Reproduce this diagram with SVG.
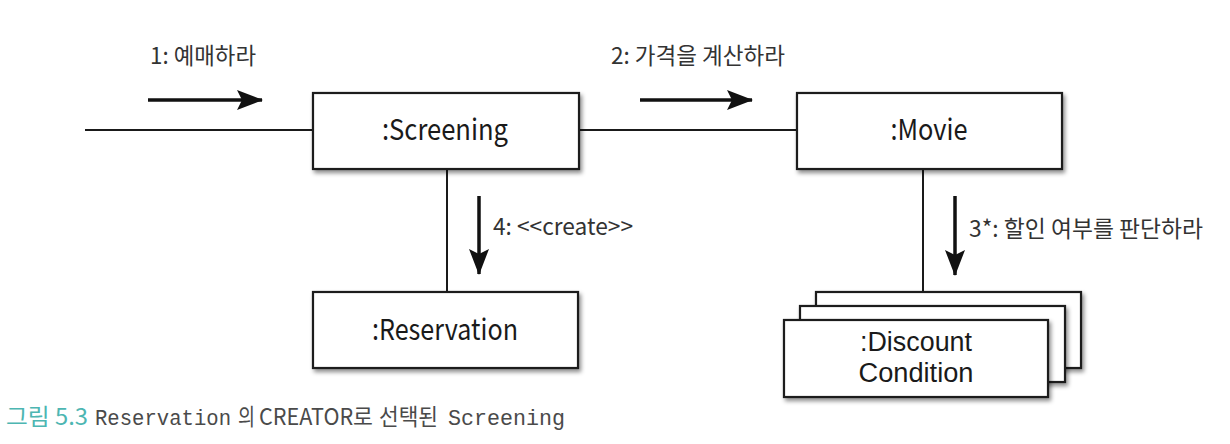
<svg xmlns="http://www.w3.org/2000/svg" width="1230" height="444" viewBox="0 0 1230 444">
<defs>
<filter id="sh" x="-10%" y="-20%" width="125%" height="150%">
<feDropShadow dx="2" dy="3" stdDeviation="2" flood-color="#000" flood-opacity="0.45"/>
</filter>
<marker id="ah" markerUnits="userSpaceOnUse" markerWidth="30" markerHeight="24" refX="25" refY="10" orient="auto" viewBox="0 0 30 24">
<path d="M0,0 L26,10 L0,20 L5,10 Z" fill="#111"/>
</marker>
</defs>
<style>
.box{fill:#fff;stroke:#1a1a1a;stroke-width:2.2}
.conn{stroke:#1a1a1a;stroke-width:2;fill:none}
.msg{stroke:#111;stroke-width:3.5;fill:none;marker-end:url(#ah)}
.node{font-family:"Noto Sans CJK KR","Noto Sans",sans-serif;font-size:29px;fill:#1a1a1a;text-anchor:middle}
.node2{font-family:"Liberation Sans",Arial,sans-serif;font-size:27px;fill:#1a1a1a;text-anchor:middle}
.lbl{font-family:"Noto Sans CJK KR","Noto Sans",sans-serif;font-size:23px;fill:#333}
.cap{font-family:"Noto Sans CJK KR","Noto Sans",sans-serif;font-size:23px;fill:#4a4a4a}
.teal{fill:#4db6b2}
.mono{font-family:"Liberation Mono","DejaVu Sans Mono",monospace;font-size:22px;fill:#4a4a4a}
</style>
<rect width="1230" height="444" fill="#fff"/>
<g id="connectors">
<line class="conn" x1="85" y1="130" x2="313" y2="130"/>
<line class="conn" x1="579" y1="130" x2="797" y2="130"/>
<line class="conn" x1="447" y1="169" x2="447" y2="292"/>
<line class="conn" x1="923" y1="169" x2="923" y2="292"/>
</g>
<g id="messages">
<line class="msg" x1="148" y1="100" x2="262" y2="100"/>
<text class="lbl" x="150" y="64" textLength="106" lengthAdjust="spacingAndGlyphs">1: 예매하라</text>
<line class="msg" x1="640" y1="100" x2="752" y2="100"/>
<text class="lbl" x="611" y="64" textLength="174" lengthAdjust="spacingAndGlyphs">2: 가격을 계산하라</text>
<line class="msg" x1="479" y1="196" x2="479" y2="274"/>
<text class="lbl" x="493" y="235" textLength="140" lengthAdjust="spacingAndGlyphs">4: &lt;&lt;create&gt;&gt;</text>
<line class="msg" x1="955" y1="196" x2="955" y2="275"/>
<text class="lbl" x="969" y="237" textLength="234" lengthAdjust="spacingAndGlyphs">3*: 할인 여부를 판단하라</text>
</g>
<g id="screening">
<rect class="box" x="313" y="93" width="266" height="76" filter="url(#sh)"/>
<text class="node" x="445" y="140" textLength="126" lengthAdjust="spacingAndGlyphs">:Screening</text>
</g>
<g id="movie">
<rect class="box" x="797" y="93" width="265" height="76" filter="url(#sh)"/>
<text class="node" x="929" y="140" textLength="77" lengthAdjust="spacingAndGlyphs">:Movie</text>
</g>
<g id="reservation">
<rect class="box" x="313" y="292" width="265" height="76" filter="url(#sh)"/>
<text class="node" x="445" y="340" textLength="146" lengthAdjust="spacingAndGlyphs">:Reservation</text>
</g>
<g id="discountCondition">
<rect class="box" x="816" y="292" width="265" height="76" filter="url(#sh)"/>
<rect class="box" x="800" y="306" width="265" height="76" filter="url(#sh)"/>
<rect class="box" x="784" y="320" width="264" height="77" filter="url(#sh)"/>
<text class="node2"><tspan x="916" y="351" textLength="112" lengthAdjust="spacingAndGlyphs">:Discount</tspan><tspan x="916" y="382" textLength="115" lengthAdjust="spacingAndGlyphs">Condition</tspan></text>
</g>
<g id="caption">
<text class="cap teal" x="6" y="425" textLength="82" lengthAdjust="spacingAndGlyphs">그림 5.3</text>
<text class="mono" x="95" y="425" textLength="136" lengthAdjust="spacingAndGlyphs">Reservation</text>
<text class="cap" x="238" y="425"><tspan textLength="17" lengthAdjust="spacingAndGlyphs">의</tspan><tspan x="259" textLength="114" lengthAdjust="spacingAndGlyphs">CREATOR로</tspan><tspan x="379" textLength="59" lengthAdjust="spacingAndGlyphs">선택된</tspan></text>
<text class="mono" x="448" y="425" textLength="117" lengthAdjust="spacingAndGlyphs">Screening</text>
</g>
</svg>
